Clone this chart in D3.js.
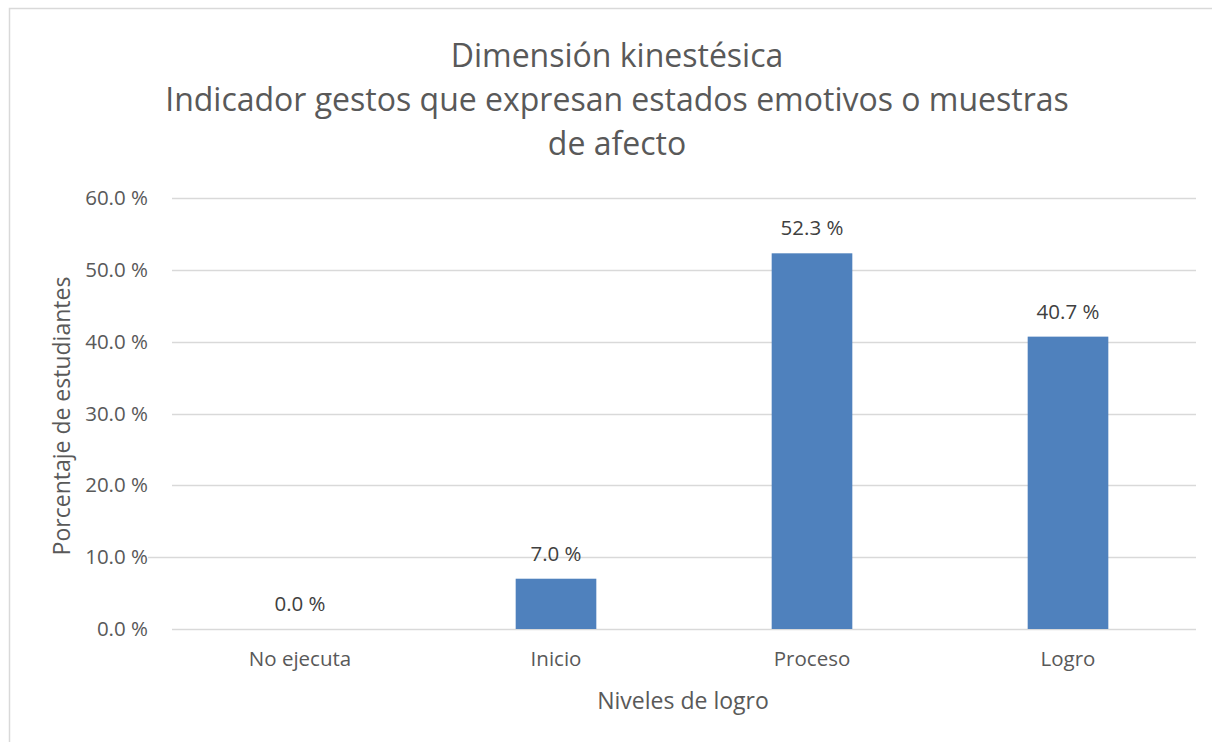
<!DOCTYPE html>
<html>
<head>
<meta charset="utf-8">
<script src="https://d3js.org/d3.v7.min.js"></script>
<style>
  body { margin: 0; background: #fff; }
  svg { display: block; font-family: "Open Sans", "Noto Sans", sans-serif; }
</style>
</head>
<body>
<div id="chart"></div>
<script>
// datos del gráfico
const categories = ['No ejecuta', 'Inicio', 'Proceso', 'Logro'];
const values = [0.0, 7.0, 52.3, 40.7];
const yTicks = [0, 10, 20, 30, 40, 50, 60];
const titleLines = [
    'Dimensión kinestésica',
    'Indicador gestos que expresan estados emotivos o muestras',
    'de afecto'
];

const width = 1212, height = 742;
const margin = { top: 198, right: 16, bottom: 113, left: 172 };
const innerW = width - margin.left - margin.right;
const innerH = height - margin.top - margin.bottom;

const svg = d3.select('#chart')
    .append('svg')
    .attr('width', width)
    .attr('height', height);

// marco
svg.append('rect')
    .attr('x', 9.5).attr('y', 8.5)
    .attr('width', 1210).attr('height', 740)
    .attr('fill', 'none')
    .attr('stroke', '#d9d9d9')
    .attr('stroke-width', 1.5);

// título
svg.append('g').selectAll('text')
    .data(titleLines)
    .enter().append('text')
    .attr('x', 617)
    .attr('y', (d, i) => 67 + i * 44)
    .attr('text-anchor', 'middle')
    .attr('fill', '#595959')
    .style('font-size', '32px')
    .text(d => d);

const chart = svg.append('g')
    .attr('transform', `translate(${margin.left},${margin.top})`);

const x = d3.scaleBand()
    .domain(categories)
    .range([0, innerW])
    .paddingInner(0.685)
    .paddingOuter(0.3425);

const y = d3.scaleLinear()
    .domain([0, 60])
    .range([innerH, 0]);

// líneas de cuadrícula
chart.append('g')
    .selectAll('line')
    .data(yTicks)
    .enter().append('line')
    .attr('x1', d => d === 10 ? -24 : 0)
    .attr('x2', innerW)
    .attr('y1', d => Math.round(y(d)) + 0.5)
    .attr('y2', d => Math.round(y(d)) + 0.5)
    .attr('stroke', '#d9d9d9')
    .attr('stroke-width', 1.5);

// eje y
const yAxis = chart.append('g')
    .call(d3.axisLeft(y).tickValues(yTicks).tickSize(0).tickPadding(24)
        .tickFormat(d => d3.format('.1f')(d) + ' %'));
yAxis.select('.domain').remove();
yAxis.selectAll('text')
    .attr('fill', '#595959')
    .style('font-size', '20.5px')
    .style('font-family', '"Open Sans", sans-serif');

// eje x
const xAxis = chart.append('g')
    .attr('transform', `translate(0,${innerH})`)
    .call(d3.axisBottom(x).tickSize(0).tickPadding(22));
xAxis.select('.domain').remove();
xAxis.selectAll('text')
    .attr('fill', '#595959')
    .style('font-size', '20.5px')
    .style('font-family', '"Open Sans", sans-serif');

// barras
chart.selectAll('.bar')
    .data(values)
    .enter().append('rect')
    .attr('class', 'bar')
    .attr('x', (d, i) => x(categories[i]))
    .attr('y', d => y(d))
    .attr('width', x.bandwidth())
    .attr('height', d => innerH - y(d))
    .attr('fill', '#4f81bd');

// etiquetas de valores
chart.selectAll('.value-label')
    .data(values)
    .enter().append('text')
    .attr('class', 'value-label')
    .attr('x', (d, i) => x(categories[i]) + x.bandwidth() / 2)
    .attr('y', d => y(d) - 18)
    .attr('text-anchor', 'middle')
    .attr('fill', '#404040')
    .style('font-size', '20.5px')
    .text(d => d3.format('.1f')(d) + ' %');

// títulos de ejes
svg.append('text')
    .attr('x', 683)
    .attr('y', 709)
    .attr('text-anchor', 'middle')
    .attr('fill', '#595959')
    .style('font-size', '23px')
    .text('Niveles de logro');

svg.append('text')
    .attr('transform', 'translate(70,416) rotate(-90)')
    .attr('text-anchor', 'middle')
    .attr('fill', '#595959')
    .style('font-size', '23px')
    .text('Porcentaje de estudiantes');
</script>
</body>
</html>
